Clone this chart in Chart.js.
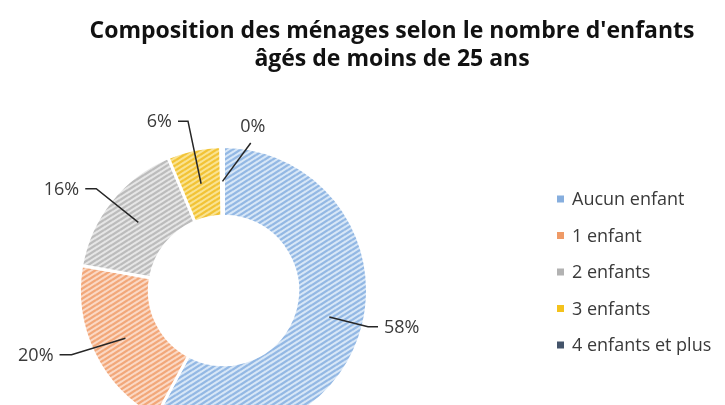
<!DOCTYPE html>
<html>
<head>
<meta charset="utf-8">
<script src="https://cdn.jsdelivr.net/npm/chart.js@4/dist/chart.umd.min.js"></script>
<style>
  html, body { margin: 0; padding: 0; background: #ffffff; overflow: hidden; }
  #wrap { width: 725px; height: 405px; overflow: hidden; position: relative; }
  canvas { display: block; }
</style>
</head>
<body>
<div id="wrap"><canvas id="c" width="725" height="470"></canvas></div>
<script>
// ---- data ----
const titleLines = ["Composition des ménages selon le nombre d'enfants", "âgés de moins de 25 ans"];
const categories = ['Aucun enfant', '1 enfant', '2 enfants', '3 enfants', '4 enfants et plus'];
const shares = [58, 20, 16, 6, 0.3];
const shareLabels = ['58%', '20%', '16%', '6%', '0%'];

// ---- styles ----
const stripeDark  = ['#93B8E4', '#F2A779', '#BCBCBC', '#F2C335', '#44546A'];
const stripeLight = ['#D8E7F7', '#FBD9C5', '#E6E6E6', '#FAE392', '#44546A'];
const legendColors = ['#86AEDE', '#EF9A66', '#B2B2B2', '#F4C21C', '#44546A'];
// leader geometry: extra radius beyond ring, angle shift (deg), horizontal length
const leaderExtra = [5, 21, 19, 29, 6];
const leaderShift = [0, 3, 0, 0, 11];
const leaderHoriz = [10, 12, 11, 10, 0];

function makePattern(dark, light) {
  const w = 8, h = 5;
  const t = document.createElement('canvas');
  t.width = w; t.height = h;
  const g = t.getContext('2d');
  g.fillStyle = light;
  g.fillRect(0, 0, w, h);
  g.strokeStyle = dark;
  g.lineWidth = 2.3;
  for (let dx = -1; dx <= 1; dx++) {
    for (let dy = -1; dy <= 1; dy++) {
      g.beginPath();
      g.moveTo(dx * w, h + dy * h);
      g.lineTo(w + dx * w, dy * h);
      g.stroke();
    }
  }
  return document.createElement('canvas').getContext('2d').createPattern(t, 'repeat');
}

const fills = stripeDark.map((d, i) => i === 4 ? d : makePattern(d, stripeLight[i]));

const FONT = '"Open Sans", "DejaVu Sans", sans-serif';

const decorPlugin = {
  id: 'decor',
  afterDraw(chart) {
    const ctx = chart.ctx;
    ctx.save();
    // title
    ctx.fillStyle = '#111111';
    ctx.font = 'bold 23px ' + FONT;
    ctx.textAlign = 'center';
    ctx.textBaseline = 'middle';
    ctx.fillText(titleLines[0], 392, 31);
    ctx.fillText(titleLines[1], 392, 59);

    // leader lines + labels
    const meta = chart.getDatasetMeta(0);
    ctx.strokeStyle = '#262626';
    ctx.lineWidth = 1.5;
    ctx.font = '18px ' + FONT;
    ctx.fillStyle = '#3a3a3a';
    meta.data.forEach((arc, i) => {
      const p = arc.getProps(['x', 'y', 'startAngle', 'endAngle', 'innerRadius', 'outerRadius'], true);
      const mid = (p.startAngle + p.endAngle) / 2;
      const rm = (p.innerRadius + p.outerRadius) / 2;
      const ax = p.x + Math.cos(mid) * rm;
      const ay = p.y + Math.sin(mid) * rm;
      const ea = mid + leaderShift[i] * Math.PI / 180;
      const er = p.outerRadius + leaderExtra[i];
      const ex = p.x + Math.cos(ea) * er;
      const ey = p.y + Math.sin(ea) * er;
      const side = Math.cos(ea) >= 0 ? 1 : -1;
      const hx = ex + side * leaderHoriz[i];
      ctx.beginPath();
      ctx.moveTo(ax, ay);
      ctx.lineTo(ex, ey);
      if (leaderHoriz[i] > 0) ctx.lineTo(hx, ey);
      ctx.stroke();
      if (leaderHoriz[i] > 0) {
        ctx.textAlign = side > 0 ? 'left' : 'right';
        ctx.textBaseline = 'middle';
        ctx.fillText(shareLabels[i], hx + side * 6, ey + 1);
      } else {
        ctx.textAlign = 'center';
        ctx.textBaseline = 'middle';
        ctx.fillText(shareLabels[i], ex + 2, ey - 16);
      }
    });

    // legend
    ctx.font = '18px ' + FONT;
    ctx.textAlign = 'left';
    ctx.textBaseline = 'middle';
    categories.forEach((c, i) => {
      const y = 199 + i * 36.5;
      ctx.fillStyle = legendColors[i];
      ctx.fillRect(557, y - 3.5, 7, 7);
      ctx.fillStyle = '#3a3a3a';
      ctx.fillText(c, 572, y + 1);
    });
    ctx.restore();
  }
};

new Chart(document.getElementById('c'), {
  type: 'doughnut',
  data: {
    labels: categories,
    datasets: [{
      data: shares,
      backgroundColor: fills,
      borderColor: '#ffffff',
      borderWidth: 3,
      hoverBorderWidth: 3,
      hoverOffset: 0
    }]
  },
  options: {
    responsive: false,
    animation: false,
    devicePixelRatio: 1,
    cutout: '51.5%',
    layout: { padding: { left: 78, right: 356, top: 145, bottom: 34 } },
    plugins: {
      legend: { display: false },
      title: { display: false },
      tooltip: { enabled: false }
    },
    events: []
  },
  plugins: [decorPlugin]
});
</script>
</body>
</html>
